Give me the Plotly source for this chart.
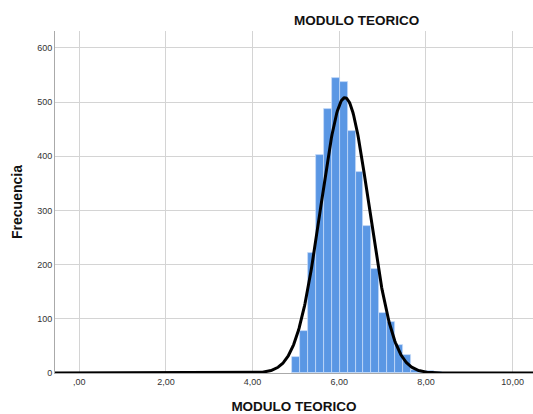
import numpy as np
import plotly.graph_objects as go

# Histogram data
bin_start = 4.92
bin_width = 0.182
counts = [30, 77, 221, 402, 488, 545, 537, 446, 371, 272, 191, 111, 95, 51, 33, 5, 3, 3, 2]

# Normal curve parameters
curve_mean = 6.13
curve_sd = 0.555

x_tick_vals = [0, 2, 4, 6, 8, 10]
x_tick_text = [",00", "2,00", "4,00", "6,00", "8,00", "10,00"]
y_tick_vals = [0, 100, 200, 300, 400, 500, 600]

x_range = [-0.56, 10.47]
y_range = [0, 631]

centers = [bin_start + bin_width * (i + 0.5) for i in range(len(counts))]
n_total = sum(counts)
xs = np.linspace(x_range[0], x_range[1], 800)
ys = n_total * bin_width / (curve_sd * np.sqrt(2 * np.pi)) * np.exp(-0.5 * ((xs - curve_mean) / curve_sd) ** 2)

fig = go.Figure()
fig.add_trace(go.Bar(
    x=centers, y=counts, width=bin_width,
    marker=dict(color="#5a97e4", line=dict(color="rgba(200,220,250,0.9)", width=0.8)),
    hoverinfo="skip", showlegend=False,
))
fig.add_trace(go.Scatter(
    x=xs, y=ys, mode="lines",
    line=dict(color="black", width=3),
    hoverinfo="skip", showlegend=False, cliponaxis=False,
))

fig.update_layout(
    width=533, height=414,
    margin=dict(l=55, r=0, t=31, b=41),
    paper_bgcolor="white", plot_bgcolor="white",
    font=dict(family="Liberation Sans, Arial, sans-serif", color="#222"),
    bargap=0,
    annotations=[dict(
        text="<b>MODULO TEORICO</b>", xref="paper", yref="paper",
        x=(356 - 55) / 478, y=1.0, yshift=11, xanchor="center", yanchor="middle",
        showarrow=False, font=dict(size=13.5, color="#111"),
    )],
)
fig.update_xaxes(
    range=x_range, tickvals=x_tick_vals, ticktext=x_tick_text,
    showgrid=True, gridcolor="#d4d4d4", gridwidth=1,
    showline=True, linecolor="#aaaaaa", linewidth=1,
    ticks="", tickfont=dict(size=9, color="#333"), zeroline=False,
    title=dict(text="<b>MODULO TEORICO</b>", font=dict(size=13.5, color="#111"), standoff=16),
)
fig.update_yaxes(
    range=y_range, tickvals=y_tick_vals,
    showgrid=True, gridcolor="#d4d4d4", gridwidth=1,
    showline=True, linecolor="#aaaaaa", linewidth=1,
    ticks="", tickfont=dict(size=9, color="#333"), zeroline=False,
    title=dict(text="<b>Frecuencia</b>", font=dict(size=14, color="#111"), standoff=11),
)

fig.write_html("out.html")
